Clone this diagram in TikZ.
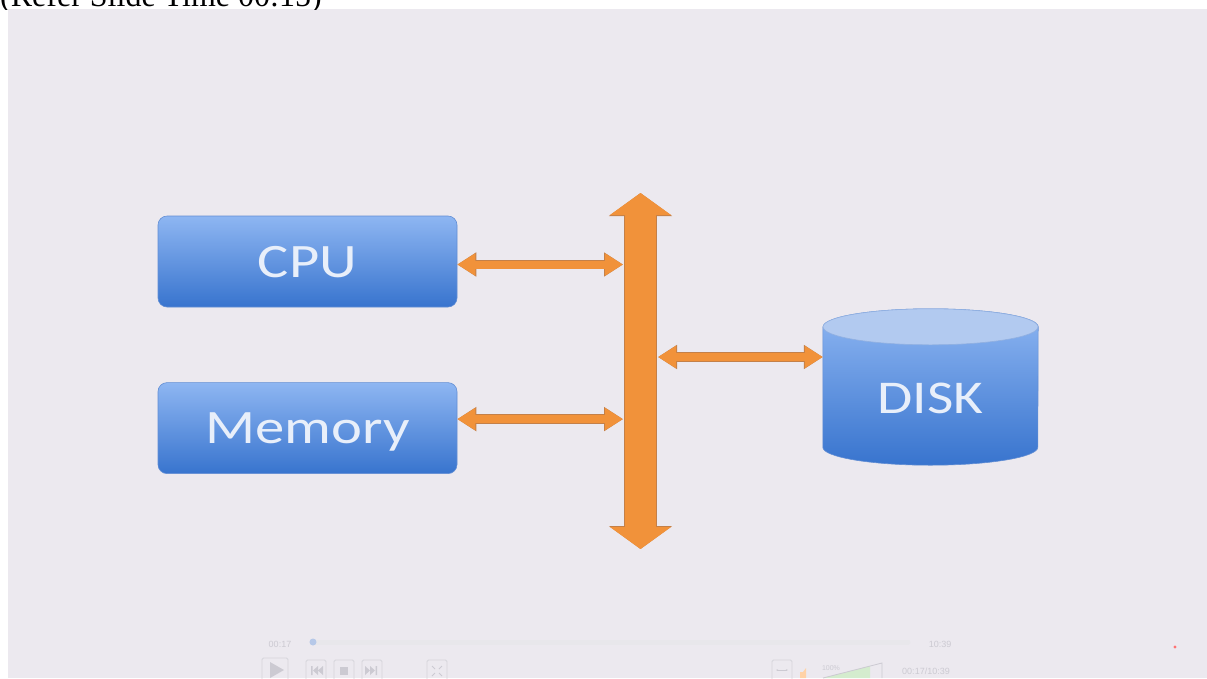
\documentclass[tikz,border=0pt]{standalone}
\usepackage{fontspec}
\setmainfont{Carlito}
\newfontfamily\timesfont{Liberation Serif}
\newfontfamily\playerfont{Liberation Sans}
\usetikzlibrary{arrows.meta,positioning}

\definecolor{slidebg}{RGB}{236,233,239}
\definecolor{boxtop}{RGB}{142,182,242}
\definecolor{boxbot}{RGB}{56,116,206}
\definecolor{boxline}{RGB}{98,142,212}
\definecolor{busorange}{RGB}{241,146,58}
\definecolor{busedge}{RGB}{196,128,72}
\definecolor{labelwhite}{RGB}{232,239,250}
\definecolor{disklid}{RGB}{178,202,240}
\definecolor{playergrey}{RGB}{204,202,210}
\definecolor{knobblue}{RGB}{182,200,232}
\definecolor{volgreen}{RGB}{212,236,206}

% labels on the slide are a little stretched sideways
\newcommand{\wide}[1]{\scalebox{1.22}[1]{#1}}

\begin{document}
\begin{tikzpicture}[x=1pt,y=-1pt,
    unit/.style={rectangle, rounded corners=9pt,
        minimum width=299pt, minimum height=91pt,
        top color=boxtop, bottom color=boxbot, draw=boxline, line width=0.6pt,
        text=labelwhite, font=\fontsize{48}{48}\selectfont,
        text height=31pt, text depth=0pt},
    linkrim/.style={busedge, line width=9.6pt,
        {Triangle[length=19pt,width=23pt]}-{Triangle[length=19pt,width=23pt]}},
    link/.style={busorange, line width=8pt,
        {Triangle[length=18pt,width=21pt]}-{Triangle[length=18pt,width=21pt]}},
    busrim/.style={busedge, line width=32.6pt,
        {Triangle[length=23pt,width=62pt]}-{Triangle[length=23pt,width=62pt]}},
    bus/.style={busorange, line width=31pt,
        {Triangle[length=22pt,width=60pt]}-{Triangle[length=22pt,width=60pt]}},
    btn/.style={draw=playergrey!80, rounded corners=1.5pt, line width=0.8pt,
        minimum width=20pt, minimum height=22pt, inner sep=0pt},
    tick/.style={text=playergrey, font=\playerfont\fontsize{9}{9}\selectfont,
        inner sep=0pt}]

\useasboundingbox (0,0) rectangle (1207,678);
\fill[white] (0,0) rectangle (1207,678);
\fill[slidebg] (8,9) rectangle (1207,678);

% caption line, cut off at the top edge
\begin{scope}
  \clip (0,0) rectangle (1207,9);
  \node[anchor=base west, inner sep=0pt,
        font=\timesfont\fontsize{32}{32}\selectfont] (caption) at (0,6)
        {(Refer Slide Time 00:15)};
\end{scope}

% the two units on the left
\node[unit] (cpu) at (307.5,261.5) {\wide{CPU}};
\node[unit, below=75pt of cpu] (mem) {\wide{Memory}};

% the bus
\coordinate (bustop) at (640.5,193);
\coordinate (busbot) at (640.5,549);
\coordinate (busleft) at (623,0);
\coordinate (busright) at (658,0);
\draw[busrim] (bustop) -- (busbot);
\draw[bus] (bustop) -- (busbot);

% disk: body box, then cylinder drawn round it
\node[minimum width=215pt, minimum height=120pt, inner sep=0pt] (disk) at (930.5,387) {};
\shade[top color=boxtop, bottom color=boxbot, draw=boxline, line width=0.6pt]
    (disk.north west) -- (disk.south west)
    arc[start angle=180, end angle=0, x radius=107.5, y radius=18]
    -- (disk.north east)
    arc[start angle=0, end angle=-180, x radius=107.5, y radius=18] -- cycle;
\filldraw[fill=disklid, draw=boxline!70, line width=0.6pt]
    (disk.north) ellipse[x radius=107.5, y radius=18];
\node[text=labelwhite, font=\fontsize{47}{47}\selectfont,
      text height=30pt, text depth=0pt] (disklabel) at (930.5,398) {\wide{DISK}};

% links onto the bus
\draw[linkrim] ([yshift=-3pt]cpu.east) -- ([yshift=-3pt]cpu.east -| busleft);
\draw[link] ([yshift=-3pt]cpu.east) -- ([yshift=-3pt]cpu.east -| busleft);
\draw[linkrim] ([yshift=9pt]mem.east) -- ([yshift=9pt]mem.east -| busleft);
\draw[link] ([yshift=9pt]mem.east) -- ([yshift=9pt]mem.east -| busleft);
\draw[linkrim] ([yshift=30pt]disk.west -| busright) -- ([yshift=30pt]disk.west);
\draw[link] ([yshift=30pt]disk.west -| busright) -- ([yshift=30pt]disk.west);

% player bar
\node[tick] (elapsed) at (280,644) {00:17};
\draw[playergrey!45, line width=5pt, line cap=round] (312,642) -- (908,642);
\fill[knobblue] (313,642) circle (3.5);
\node[tick] (total) at (940,644) {10:39};

\node[btn, minimum width=26pt, minimum height=26pt] (play) at (275,671) {};
\fill[playergrey] (270,662) -- (270,678) -- (284,670) -- cycle;
\node[btn] (prev) at (316,671) {};
\fill[playergrey] (311,666) rectangle (312.5,675)
    (318,666) -- (313,670.5) -- (318,675) -- cycle
    (323,666) -- (318,670.5) -- (323,675) -- cycle;
\node[btn] (stop) at (344,671) {};
\fill[playergrey] (340,667) rectangle (348,675);
\node[btn] (next) at (372,671) {};
\fill[playergrey] (365,666) -- (370,670.5) -- (365,675) -- cycle
    (370,666) -- (375,670.5) -- (370,675) -- cycle
    (375.5,666) rectangle (377,675);
\node[btn] (fit) at (437,671) {};
\draw[playergrey, line width=1pt] (432,666) -- (435,669) (442,666) -- (439,669)
    (432,676) -- (435,673) (442,676) -- (439,673);

\node[btn] (stretch) at (782,671) {};
\draw[playergrey, line width=0.8pt, {Stealth[length=2pt]}-{Stealth[length=2pt]}] (776,670) -- (788,670);
\fill[orange!35] (800,672) rectangle (803,678) (803,672) -- (806,668) -- (806,678) -- (803,678) -- cycle;
\node[tick, font=\playerfont\fontsize{7}{7}\selectfont] (volume) at (831,668) {100\%};
\fill[volgreen] (823,678) -- (870,666) -- (870,678) -- cycle;
\draw[playergrey, line width=0.8pt] (823,678) -- (882,663) -- (882,678);
\node[tick] (clock) at (926,671) {00:17/10:39};

\fill[red!55] (1175,647) circle (1.6);
\end{tikzpicture}
\end{document}
